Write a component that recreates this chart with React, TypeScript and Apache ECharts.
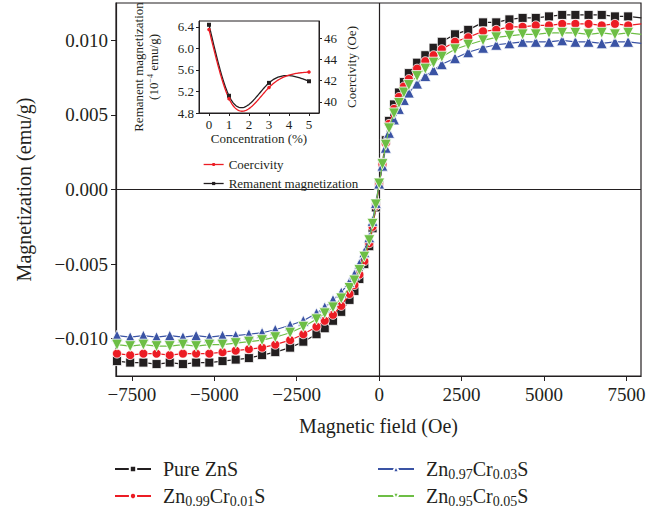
import React, { useEffect, useRef } from 'react';
import * as echarts from 'echarts';

const FONT = '"Liberation Serif", "DejaVu Serif", serif';
const TXT = '#231f20';

// Main hysteresis data (field in Oe, magnetization in emu/g)
const field = [-7950, -7550, -7150, -6750, -6350, -5950, -5550, -5150, -4750, -4350, -3950, -3550, -3150, -2700, -2300, -1900, -1650, -1400, -1150, -900, -750, -600, -450, -300, -200, -100, 0, 100, 200, 300, 450, 600, 750, 900, 1150, 1400, 1650, 1900, 2300, 2700, 3150, 3550, 3950, 4350, 4750, 5150, 5550, 5950, 6350, 6750, 7150, 7550, 7950];

const pureZnS = [-0.0115, -0.0116, -0.0116, -0.0117, -0.0116, -0.0117, -0.0116, -0.0116, -0.0115, -0.0114, -0.0113, -0.0111, -0.0109, -0.0106, -0.0102, -0.0097, -0.0093, -0.0088, -0.0082, -0.0074, -0.0068, -0.0060, -0.0050, -0.0038, -0.0026, -0.0012,
  0.0003,
  0.0018, 0.0033, 0.0046, 0.0057, 0.0065, 0.0072, 0.0078, 0.0085, 0.0090, 0.0095, 0.0099, 0.0104, 0.0107, 0.0112, 0.0112, 0.0114, 0.0115, 0.0115, 0.0116, 0.0117, 0.0117, 0.0117, 0.0117, 0.0116, 0.0116, 0.0115];

const cr001 = [-0.0110, -0.0111, -0.0110, -0.0110, -0.0111, -0.0110, -0.0110, -0.0110, -0.0109, -0.0108, -0.0107, -0.0106, -0.0104, -0.0101, -0.0097, -0.0092, -0.0088, -0.0084, -0.0078, -0.0070, -0.0064, -0.0057, -0.0048, -0.0036, -0.0025, -0.0011,
  0.0003,
  0.0017, 0.0031, 0.0044, 0.0054, 0.0062, 0.0069, 0.0074, 0.0081, 0.0086, 0.0090, 0.0094, 0.0099, 0.0102, 0.0106, 0.0107, 0.0109, 0.0109, 0.0110, 0.0110, 0.0111, 0.0111, 0.0111, 0.0110, 0.0111, 0.0110, 0.0111];

const cr003 = [-0.0098, -0.0099, -0.0098, -0.0099, -0.0098, -0.0099, -0.0098, -0.0099, -0.0098, -0.0098, -0.0097, -0.0096, -0.0094, -0.0091, -0.0088, -0.0083, -0.0079, -0.0074, -0.0069, -0.0062, -0.0057, -0.0050, -0.0042, -0.0032, -0.0021, -0.0009,
  0.0004,
  0.0016, 0.0028, 0.0038, 0.0047, 0.0054, 0.0060, 0.0065, 0.0071, 0.0076, 0.0080, 0.0084, 0.0088, 0.0092, 0.0095, 0.0097, 0.0098, 0.0099, 0.0099, 0.0099, 0.0100, 0.0099, 0.0099, 0.0098, 0.0099, 0.0099, 0.0098];

const cr005 = [-0.0104, -0.0105, -0.0104, -0.0105, -0.0105, -0.0104, -0.0105, -0.0104, -0.0104, -0.0103, -0.0102, -0.0101, -0.0099, -0.0096, -0.0092, -0.0087, -0.0083, -0.0079, -0.0073, -0.0066, -0.0061, -0.0054, -0.0045, -0.0034, -0.0023, -0.0010,
  0.0004,
  0.0017, 0.0030, 0.0041, 0.0051, 0.0058, 0.0065, 0.0070, 0.0076, 0.0081, 0.0085, 0.0089, 0.0094, 0.0097, 0.0100, 0.0102, 0.0103, 0.0104, 0.0104, 0.0105, 0.0105, 0.0105, 0.0104, 0.0105, 0.0104, 0.0105, 0.0104];

const xTicks = [-7500, -5000, -2500, 0, 2500, 5000, 7500];
const yTicks = [-0.01, -0.005, 0, 0.005, 0.01];

// Inset data
const concentration = [0, 1, 3, 5];
const remanent = [6.44, 5.12, 5.36, 5.39];
const coercivity = [46.8, 40.3, 41.35, 42.8];
const insetXTicks = [0, 1, 2, 3, 4, 5];
const insetLeftTicks = [4.8, 5.2, 5.6, 6.0, 6.4];
const insetRightTicks = [40, 42, 44, 46];

const names = ['Pure ZnS', 'Zn0.99Cr0.01S', 'Zn0.97Cr0.03S', 'Zn0.95Cr0.05S'];
const colors = ['#231f20', '#ec1c24', '#3a53a4', '#6dbe45'];
const symbols = ['rect', 'circle', 'triangle', 'path://M0,0 L10,0 L5,9 Z'];
const sizes = [9, 9, 11, 11];
const values = [pureZnS, cr001, cr003, cr005];
const RED = '#ec1c24';

const fmtMinus = (s: string) => s.replace('-', '\u2212');

// natural cubic spline drawn through the series' own points (rendering only)
function splineRenderer(color: string) {
  return (params: any, api: any) => {
    if (params.dataIndexInside !== 0) return null;
    const n = params.dataInsideLength;
    const xs: number[] = [];
    const ys: number[] = [];
    for (let i = 0; i < n; i++) {
      xs.push(api.value(0, i));
      ys.push(api.value(1, i));
    }
    const h: number[] = [];
    for (let i = 0; i < n - 1; i++) h.push(xs[i + 1] - xs[i]);
    const M = new Array(n).fill(0);
    if (n > 2) {
      const a: number[] = [], b: number[] = [], c: number[] = [], d: number[] = [];
      for (let i = 1; i < n - 1; i++) {
        a.push(h[i - 1]);
        b.push(2 * (h[i - 1] + h[i]));
        c.push(h[i]);
        d.push(6 * ((ys[i + 1] - ys[i]) / h[i] - (ys[i] - ys[i - 1]) / h[i - 1]));
      }
      const m = b.length;
      for (let i = 1; i < m; i++) {
        const w = a[i] / b[i - 1];
        b[i] -= w * c[i - 1];
        d[i] -= w * d[i - 1];
      }
      const sol = new Array(m).fill(0);
      sol[m - 1] = d[m - 1] / b[m - 1];
      for (let i = m - 2; i >= 0; i--) sol[i] = (d[i] - c[i] * sol[i + 1]) / b[i];
      for (let i = 0; i < m; i++) M[i + 1] = sol[i];
    }
    const pts: number[][] = [];
    for (let i = 0; i < n - 1; i++) {
      const steps = 40;
      for (let s = 0; s <= steps; s++) {
        if (i > 0 && s === 0) continue;
        const x = xs[i] + (h[i] * s) / steps;
        const A = xs[i + 1] - x;
        const B = x - xs[i];
        const y = (M[i] * A * A * A) / (6 * h[i]) + (M[i + 1] * B * B * B) / (6 * h[i])
          + (ys[i] / h[i] - (M[i] * h[i]) / 6) * A + (ys[i + 1] / h[i] - (M[i + 1] * h[i]) / 6) * B;
        pts.push(api.coord([x, y]));
      }
    }
    return {
      type: 'polyline',
      silent: true,
      shape: { points: pts },
      style: { stroke: color, lineWidth: 1.3, fill: 'none' },
    };
  };
}

function buildOption() {
  const legendText = {
    fontFamily: FONT,
    fontSize: 20,
    color: TXT,
    lineHeight: 24,
    padding: [0, 0, 0, 7],
    rich: {
      sub: { fontFamily: FONT, fontSize: 14, color: TXT, lineHeight: 14, verticalAlign: 'bottom' },
    },
  };
  const legendFmt = (n: string) => n.replace(/Zn(\d\.\d+)Cr(\d\.\d+)S/, 'Zn{sub|$1}Cr{sub|$2}S');
  const mkLegend = (name: string, left: number, top: number) => ({
    data: [name], orient: 'horizontal', left, top, padding: 0,
    itemWidth: 36, itemHeight: 8, itemGap: 0,
    textStyle: legendText, formatter: legendFmt,
  });

  const mainSeries = values.map((arr, k) => ({
    name: names[k],
    type: 'line',
    xAxisIndex: 0,
    yAxisIndex: 0,
    data: field.map((hv, i) => [hv, arr[i]]),
    symbol: symbols[k],
    symbolSize: sizes[k],
    showSymbol: true,
    lineStyle: { color: colors[k], width: 1.2 },
    itemStyle: { color: colors[k], borderColor: '#ffffff', borderWidth: 0.8 },
    z: 3 + k,
    markLine: k === 0 ? {
      silent: true,
      symbol: 'none',
      label: { show: false },
      lineStyle: { color: TXT, width: 1.2, type: 'solid' },
      data: [{ xAxis: 0 }, { yAxis: 0 }],
      z: 2,
    } : undefined,
  }));

  return {
    animation: false,
    backgroundColor: '#ffffff',
    textStyle: { fontFamily: FONT, color: TXT },
    grid: [
      { left: 116, top: 3, width: 525, height: 373, show: true, borderColor: TXT, borderWidth: 1.2, containLabel: false },
      { left: 199, top: 21, width: 120, height: 92, show: true, borderColor: TXT, borderWidth: 1, backgroundColor: 'transparent', containLabel: false },
    ],
    xAxis: [
      {
        type: 'value', gridIndex: 0, min: -7980, max: 7940,
        name: 'Magnetic field (Oe)', nameLocation: 'middle', nameGap: 40,
        nameTextStyle: { fontFamily: FONT, fontSize: 20, color: TXT },
        axisLine: { show: true, onZero: false, lineStyle: { color: TXT, width: 1.2 } },
        axisTick: { show: true, customValues: xTicks, length: 5, lineStyle: { color: TXT } },
        axisLabel: { customValues: xTicks, fontFamily: FONT, fontSize: 19, color: TXT, margin: 9, formatter: (v: number) => fmtMinus(String(v)) },
        splitLine: { show: false },
      },
      {
        type: 'value', gridIndex: 1, min: -0.5, max: 5.5,
        name: 'Concentration (%)', nameLocation: 'middle', nameGap: 19,
        nameTextStyle: { fontFamily: FONT, fontSize: 13, color: TXT },
        axisLine: { show: true, onZero: false, lineStyle: { color: TXT, width: 1 } },
        axisTick: { show: true, customValues: insetXTicks, length: 3, lineStyle: { color: TXT } },
        axisLabel: { customValues: insetXTicks, fontFamily: FONT, fontSize: 13, color: TXT, margin: 5 },
        splitLine: { show: false },
      },
    ],
    yAxis: [
      {
        type: 'value', gridIndex: 0, min: -0.0125, max: 0.0125,
        name: 'Magnetization (emu/g)', nameLocation: 'middle', nameGap: 82,
        nameTextStyle: { fontFamily: FONT, fontSize: 20, color: TXT },
        axisLine: { show: true, onZero: false, lineStyle: { color: TXT, width: 1.2 } },
        axisTick: { show: true, customValues: yTicks, length: 5, lineStyle: { color: TXT } },
        axisLabel: { customValues: yTicks, fontFamily: FONT, fontSize: 19, color: TXT, margin: 8, formatter: (v: number) => (v < 0 ? '\u2212' : '') + Math.abs(v).toFixed(3) },
        splitLine: { show: false },
      },
      {
        type: 'value', gridIndex: 1, min: 4.8, max: 6.51, position: 'left',
        name: '{t|Remanent magnetization}\n{t|(10}{sup|\u22124}{t| emu/g)}', nameLocation: 'middle', nameGap: 38, nameRotate: 90,
        nameTextStyle: {
          fontFamily: FONT, fontSize: 13, color: TXT, lineHeight: 15,
          rich: {
            t: { fontFamily: FONT, fontSize: 13, color: TXT, lineHeight: 15 },
            sup: { fontFamily: FONT, fontSize: 8, color: TXT, verticalAlign: 'top', lineHeight: 9 },
          },
        },
        axisLine: { show: true, onZero: false, lineStyle: { color: TXT, width: 1 } },
        axisTick: { show: true, customValues: insetLeftTicks, length: 3, lineStyle: { color: TXT } },
        axisLabel: { customValues: insetLeftTicks, fontFamily: FONT, fontSize: 13, color: TXT, margin: 5, formatter: (v: number) => v.toFixed(1) },
        splitLine: { show: false },
      },
      {
        type: 'value', gridIndex: 1, min: 38.95, max: 47.6, position: 'right',
        name: 'Coercivity (Oe)', nameLocation: 'middle', nameGap: 26, nameRotate: 90,
        nameTextStyle: { fontFamily: FONT, fontSize: 13, color: TXT },
        axisLine: { show: true, onZero: false, lineStyle: { color: TXT, width: 1 } },
        axisTick: { show: true, customValues: insetRightTicks, length: 3, lineStyle: { color: TXT } },
        axisLabel: { customValues: insetRightTicks, fontFamily: FONT, fontSize: 13, color: TXT, margin: 5 },
        splitLine: { show: false },
      },
    ],
    legend: [
      mkLegend(names[0], 114, 457),
      mkLegend(names[1], 114, 484),
      mkLegend(names[2], 377, 457),
      mkLegend(names[3], 377, 484),
      {
        data: [
          { name: 'Coercivity', lineStyle: { color: RED, width: 1.3, opacity: 1 } },
          { name: 'Remanent magnetization', lineStyle: { color: TXT, width: 1.3, opacity: 1 } },
        ],
        orient: 'vertical', left: 198, top: 153,
        itemWidth: 20, itemHeight: 4, itemGap: 6,
        textStyle: { fontFamily: FONT, fontSize: 13, color: TXT },
      },
    ],
    series: [
      ...mainSeries,
      {
        type: 'custom', xAxisIndex: 1, yAxisIndex: 1, coordinateSystem: 'cartesian2d',
        data: concentration.map((c, i) => [c, remanent[i]]),
        renderItem: splineRenderer(TXT), silent: true, z: 9,
      },
      {
        type: 'custom', xAxisIndex: 1, yAxisIndex: 2, coordinateSystem: 'cartesian2d',
        data: concentration.map((c, i) => [c, coercivity[i]]),
        renderItem: splineRenderer(RED), silent: true, z: 9,
      },
      {
        name: 'Remanent magnetization', type: 'line', xAxisIndex: 1, yAxisIndex: 1,
        data: concentration.map((c, i) => [c, remanent[i]]),
        symbol: 'rect', symbolSize: 4,
        lineStyle: { color: TXT, width: 1.3, opacity: 0 }, itemStyle: { color: TXT }, z: 10,
      },
      {
        name: 'Coercivity', type: 'line', xAxisIndex: 1, yAxisIndex: 2,
        data: concentration.map((c, i) => [c, coercivity[i]]),
        symbol: 'circle', symbolSize: 3.5,
        lineStyle: { color: RED, width: 1.3, opacity: 0 }, itemStyle: { color: RED }, z: 11,
      },
    ],
  };
}

export default function App() {
  const ref = useRef<HTMLDivElement>(null);
  useEffect(() => {
    if (!ref.current) return;
    const chart = echarts.init(ref.current, null, { renderer: 'svg' });
    chart.setOption(buildOption() as any);
    return () => chart.dispose();
  }, []);
  return <div ref={ref} style={{ position: 'fixed', left: 0, top: 0, width: 656, height: 509 }} />;
}
